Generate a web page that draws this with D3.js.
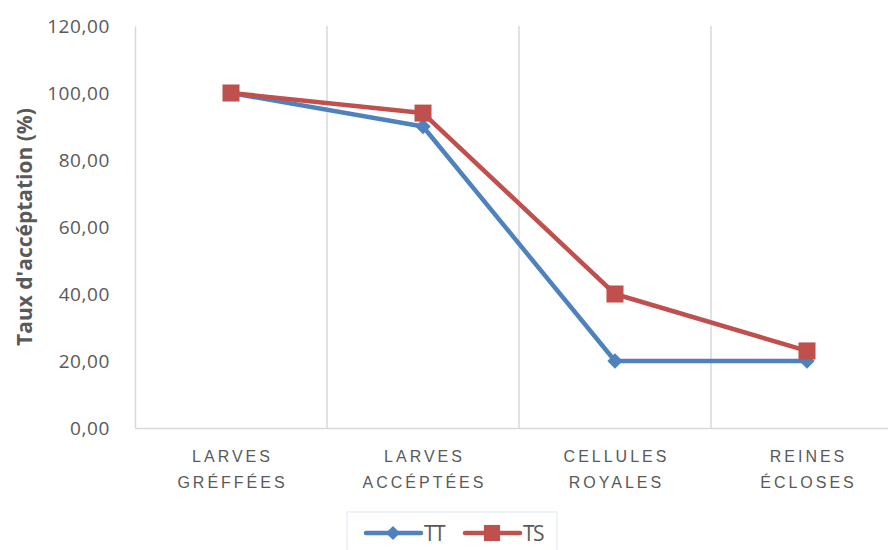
<!DOCTYPE html>
<html>
<head>
<meta charset="utf-8">
<script src="https://cdn.jsdelivr.net/npm/d3@7/dist/d3.min.js"></script>
<style>
  html, body { margin: 0; padding: 0; background: #fff; overflow: hidden; }
  svg { display: block; font-family: "Open Sans", "Liberation Sans", sans-serif; }
</style>
</head>
<body>
<svg id="chart" width="888" height="550"></svg>
<script>
// Stages of queen rearing (two lines per label)
const categories = [
  ["LARVES", "GRÉFFÉES"],
  ["LARVES", "ACCÉPTÉES"],
  ["CELLULES", "ROYALES"],
  ["REINES", "ÉCLOSES"]
];
const seriesNames = ["TT", "TS"];
const valuesTT = [100, 90, 20, 20];
const valuesTS = [100, 94, 40, 23];
const yTicks = [0, 20, 40, 60, 80, 100, 120];

const colors = { TT: "#4f81bd", TS: "#c0504d" };
const svg = d3.select("#chart");

const plot = { left: 135, right: 903, top: 26, bottom: 428 };

const x = d3.scaleBand()
  .domain(d3.range(categories.length))
  .range([plot.left, plot.right])
  .padding(0);

const y = d3.scaleLinear()
  .domain([0, 120])
  .range([plot.bottom, plot.top]);

const fmt = v => d3.format(".2f")(v).replace(".", ",");

// Vertical separators between categories
svg.append("g")
  .selectAll("line")
  .data(d3.range(1, categories.length + 1))
  .join("line")
  .attr("x1", i => x.step() * i + plot.left)
  .attr("x2", i => x.step() * i + plot.left)
  .attr("y1", plot.top)
  .attr("y2", plot.bottom)
  .attr("stroke", "#d9d9d9")
  .attr("stroke-width", 1.5);

// Y axis
const yAxis = svg.append("g")
  .attr("transform", `translate(${plot.left},0)`)
  .call(d3.axisLeft(y).tickValues(yTicks).tickFormat(fmt).tickSize(0).tickPadding(25));
yAxis.select(".domain").attr("stroke", "#d9d9d9").attr("stroke-width", 1.5);
yAxis.selectAll("text")
  .attr("fill", "#595959")
  .style("font-size", "19px")
  .style("letter-spacing", "0.6px")
  .style("font-family", "'Open Sans', sans-serif");

// X axis
const xAxis = svg.append("g")
  .attr("transform", `translate(0,${plot.bottom})`)
  .call(d3.axisBottom(x).tickSize(0).tickFormat(""));
xAxis.select(".domain").attr("stroke", "#d9d9d9").attr("stroke-width", 1.5);
xAxis.selectAll(".tick").each(function(d) {
  const t = d3.select(this).append("text")
    .attr("fill", "#595959")
    .attr("text-anchor", "middle")
    .style("font-size", "16px")
    .style("letter-spacing", "3px");
  categories[d].forEach((line, k) => {
    t.append("tspan")
      .attr("x", 1.5)
      .attr("y", 34 + k * 26)
      .text(line);
  });
});

// Axis title
svg.append("text")
  .attr("transform", `translate(32,227) rotate(-90)`)
  .attr("text-anchor", "middle")
  .attr("fill", "#595959")
  .style("font-size", "21px")
  .style("font-weight", "bold")
  .text("Taux d'accéptation (%)");

// Lines and markers (diamond = square turned 45°)
const line = d3.line()
  .x((d, i) => x(i) + x.bandwidth() / 2)
  .y(d => y(d));

const series = [
  { name: "TT", values: valuesTT, size: 118, rot: 45 },
  { name: "TS", values: valuesTS, size: 290, rot: 0 }
];

series.forEach(s => {
  const g = svg.append("g");
  g.append("path")
    .datum(s.values)
    .attr("d", line)
    .attr("fill", "none")
    .attr("stroke", colors[s.name])
    .attr("stroke-width", 4.5)
    .attr("stroke-linejoin", "round");
  g.selectAll("path.mark")
    .data(s.values)
    .join("path")
    .attr("class", "mark")
    .attr("transform", (d, i) => `translate(${x(i) + x.bandwidth() / 2},${y(d)}) rotate(${s.rot})`)
    .attr("d", d3.symbol().type(d3.symbolSquare).size(s.size))
    .attr("fill", colors[s.name]);
});

// Legend
const legend = svg.append("g");
legend.append("rect")
  .attr("x", 347).attr("y", 512)
  .attr("width", 210).attr("height", 50)
  .attr("fill", "#fff")
  .attr("stroke", "#e8eef7")
  .attr("stroke-width", 1.5);

const legendItems = [
  { name: "TT", x0: 366, size: 100, rot: 45 },
  { name: "TS", x0: 465, size: 260, rot: 0 }
];
legendItems.forEach(it => {
  const ly = 533;
  legend.append("line")
    .attr("x1", it.x0).attr("x2", it.x0 + 55)
    .attr("y1", ly).attr("y2", ly)
    .attr("stroke", colors[it.name])
    .attr("stroke-width", 4.5)
    .attr("stroke-linecap", "round");
  legend.append("path")
    .attr("transform", `translate(${it.x0 + 27},${ly}) rotate(${it.rot})`)
    .attr("d", d3.symbol().type(d3.symbolSquare).size(it.size))
    .attr("fill", colors[it.name]);
  legend.append("text")
    .attr("x", it.x0 + 58)
    .attr("y", ly + 8)
    .attr("fill", "#595959")
    .style("font-size", "21px")
    .style("letter-spacing", "-1.5px")
    .text(it.name);
});
</script>
</body>
</html>
